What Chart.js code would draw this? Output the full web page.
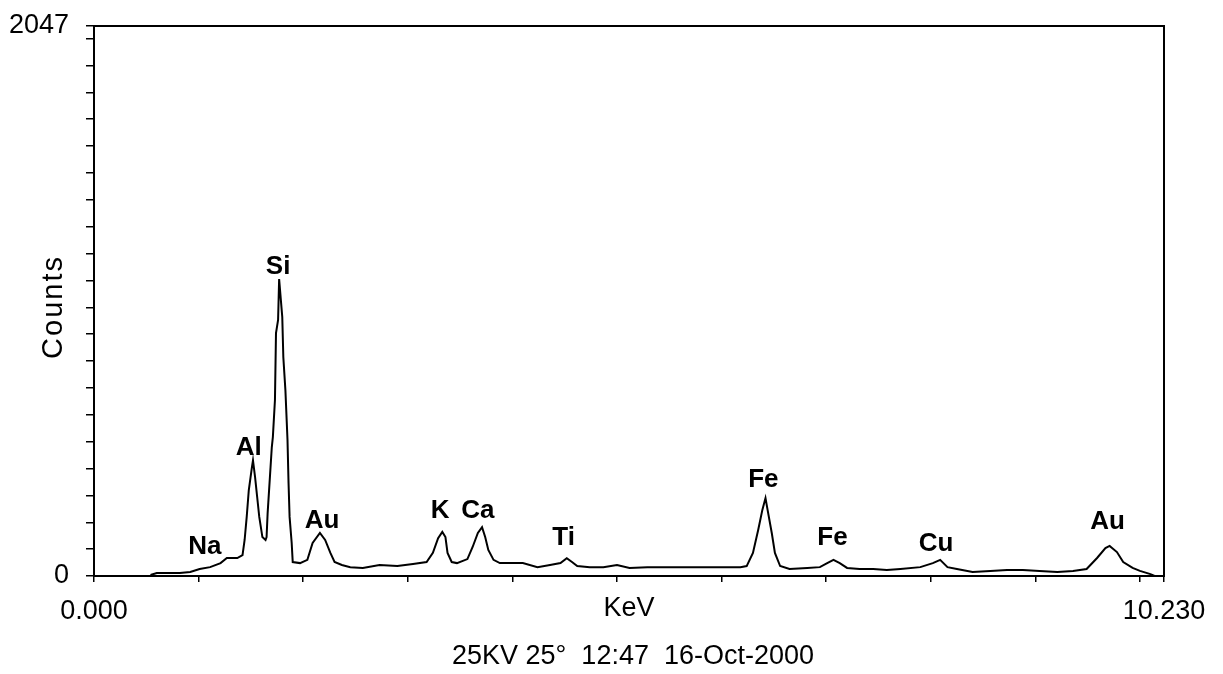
<!DOCTYPE html>
<html>
<head>
<meta charset="utf-8">
<title>EDS spectrum</title>
<script src="https://cdn.jsdelivr.net/npm/chart.js@4.4.1/dist/chart.umd.min.js"></script>
<style>
  html, body { margin: 0; padding: 0; background: #ffffff; }
  #wrap { width: 1223px; height: 674px; }
</style>
</head>
<body>
<div id="wrap"><canvas id="spectrum" width="1223" height="674"></canvas></div>
<script>
// Energy channels (keV) and the counts recorded at each of them
const energyKeV = [
  0.54, 0.60, 0.82, 0.92, 1.01, 1.11, 1.21, 1.27, 1.37, 1.42,
  1.44, 1.46, 1.48, 1.51, 1.52, 1.54, 1.56, 1.58, 1.61, 1.64,
  1.65, 1.66, 1.68, 1.70, 1.71, 1.73, 1.74, 1.76, 1.77, 1.80,
  1.81, 1.83, 1.85, 1.86, 1.87, 1.89, 1.90, 1.97, 2.04, 2.09,
  2.16, 2.21, 2.26, 2.30, 2.37, 2.45, 2.57, 2.73, 2.90, 3.05,
  3.18, 3.24, 3.29, 3.33, 3.36, 3.38, 3.42, 3.47, 3.57, 3.62,
  3.67, 3.71, 3.74, 3.77, 3.82, 3.88, 3.98, 4.10, 4.24, 4.36,
  4.46, 4.52, 4.57, 4.62, 4.74, 4.87, 5.00, 5.12, 5.29, 5.41,
  5.54, 5.86, 6.18, 6.24, 6.30, 6.35, 6.39, 6.42, 6.44, 6.48,
  6.51, 6.56, 6.65, 6.82, 6.94, 7.01, 7.07, 7.13, 7.20, 7.32,
  7.45, 7.58, 7.71, 7.90, 8.02, 8.09, 8.16, 8.25, 8.40, 8.57,
  8.73, 8.88, 9.04, 9.21, 9.36, 9.49, 9.59, 9.67, 9.71, 9.78,
  9.84, 9.93, 10.00, 10.10, 10.14
];
const counts = [
  4, 11, 11, 15, 26, 33, 48, 67, 67, 78,
  134, 220, 320, 405, 430, 368, 294, 220, 145, 134,
  145, 234, 357, 480, 517, 655, 904, 953, 1105, 964,
  815, 692, 506, 346, 220, 123, 52, 48, 60, 123,
  160, 134, 86, 52, 41, 33, 30, 41, 37, 45,
  52, 86, 141, 164, 145, 86, 52, 48, 63, 108,
  160, 182, 145, 97, 60, 48, 48, 48, 33, 41,
  48, 66, 52, 37, 33, 33, 41, 30, 33, 33,
  33, 33, 33, 37, 86, 171, 246, 290, 246, 160,
  86, 37, 26, 30, 33, 48, 60, 48, 30, 26,
  26, 22, 26, 33, 48, 60, 33, 26, 15, 19,
  22, 22, 19, 15, 19, 26, 67, 104, 112, 89,
  52, 30, 19, 7, 0
];

// Element identifications: name, line energy (keV) and label height (counts)
const peakNames = ['Na', 'Al', 'Si', 'Au', 'K', 'Ca', 'Ti', 'Fe', 'Fe', 'Cu', 'Au'];
const peakKeV = [1.06, 1.48, 1.76, 2.18, 3.31, 3.67, 4.49, 6.40, 7.06, 8.05, 9.69];
const peakLabelCounts = [108, 476, 1150, 205, 242, 242, 141, 357, 141, 119, 201];

// Axis ranges, tick spacing and the few tick labels that are printed
const xMax = 10.23;
const yMax = 2047;
const xTickStep = 1;
const yTickStep = 100;
const xTickLabels = { 0: '0.000', 10.23: '10.230' };
const yTickLabels = { 0: '0', 2047: '2047' };

const xAxisTitle = 'KeV';
const yAxisTitle = 'Counts';
const footerText = '25KV 25\u00B0  12:47  16-Oct-2000';

const axisFont = "'Liberation Sans', Arial, sans-serif";
const labelFont = "'Liberation Sans', Arial, sans-serif";

function stepTicks(max, step) {
  const t = [];
  for (let v = 0; v < max - 1e-9; v += step) t.push({ value: +v.toFixed(6) });
  t.push({ value: max });
  return t;
}

// Spectrum captions and element labels, drawn over the plot
const captions = {
  id: 'captions',
  afterDraw(chart) {
    const { ctx, chartArea: ca, scales } = chart;
    ctx.save();
    ctx.fillStyle = '#000';
    ctx.textAlign = 'center';
    ctx.textBaseline = 'middle';

    ctx.font = "27px " + axisFont;
    ctx.fillText(xAxisTitle, (ca.left + ca.right) / 2, ca.bottom + 33);
    ctx.fillText(footerText, (ca.left + ca.right) / 2 + 4, ca.bottom + 81);

    // vertical axis caption, slightly spaced out
    ctx.save();
    ctx.font = "29px " + axisFont;
    ctx.letterSpacing = '2px';
    ctx.translate(ca.left - 40, (ca.top + ca.bottom) / 2 + 6);
    ctx.rotate(-Math.PI / 2);
    ctx.fillText(yAxisTitle, 0, 0);
    ctx.restore();

    ctx.font = "bold 26px " + labelFont;
    peakNames.forEach((name, i) => {
      const x = scales.x.getPixelForValue(peakKeV[i]);
      const y = scales.y.getPixelForValue(peakLabelCounts[i]);
      ctx.fillText(name, x, y);
    });
    ctx.restore();
  }
};

new Chart(document.getElementById('spectrum'), {
  type: 'line',
  data: {
    datasets: [{
      data: energyKeV.map((e, i) => ({ x: e, y: counts[i] })),
      borderColor: '#000',
      borderWidth: 2,
      pointRadius: 0,
      tension: 0,
      fill: false
    }]
  },
  options: {
    responsive: false,
    animation: false,
    devicePixelRatio: 1,
    layout: { padding: { left: 0, top: 26, right: 59, bottom: 0 } },
    plugins: {
      legend: { display: false },
      tooltip: { enabled: false },
      title: { display: false }
    },
    scales: {
      x: {
        type: 'linear',
        position: 'bottom',
        min: 0,
        max: xMax,
        afterBuildTicks: s => { s.ticks = stepTicks(xMax, xTickStep); },
        afterFit: s => { s.height = 98; s.paddingLeft = 0; s.paddingRight = 0; },
        ticks: {
          autoSkip: false,
          maxRotation: 0,
          padding: 13,
          color: '#000',
          font: { family: axisFont, size: 27 },
          callback: v => xTickLabels[+v.toFixed(2)] || ''
        },
        grid: { drawOnChartArea: false, drawTicks: true, tickLength: 6, color: '#000', lineWidth: 1.5 },
        border: { display: true, color: '#000', width: 2 }
      },
      y: {
        type: 'linear',
        position: 'left',
        min: 0,
        max: yMax,
        afterBuildTicks: s => { s.ticks = stepTicks(yMax, yTickStep); },
        afterFit: s => { s.width = 94; s.paddingTop = 0; s.paddingBottom = 0; },
        ticks: {
          autoSkip: false,
          padding: 17,
          color: '#000',
          font: { family: axisFont, size: 27 },
          callback: v => yTickLabels[v] || ''
        },
        grid: { drawOnChartArea: false, drawTicks: true, tickLength: 8, color: '#000', lineWidth: 1.5 },
        border: { display: true, color: '#000', width: 2 }
      },
      xTop: {
        type: 'linear',
        position: 'top',
        min: 0,
        max: xMax,
        afterFit: s => { s.height = 0; },
        ticks: { display: false },
        grid: { display: false, drawTicks: false },
        border: { display: true, color: '#000', width: 2 }
      },
      yRight: {
        type: 'linear',
        position: 'right',
        min: 0,
        max: yMax,
        afterFit: s => { s.width = 0; },
        ticks: { display: false },
        grid: { display: false, drawTicks: false },
        border: { display: true, color: '#000', width: 2 }
      }
    }
  },
  plugins: [captions]
});
</script>
</body>
</html>
